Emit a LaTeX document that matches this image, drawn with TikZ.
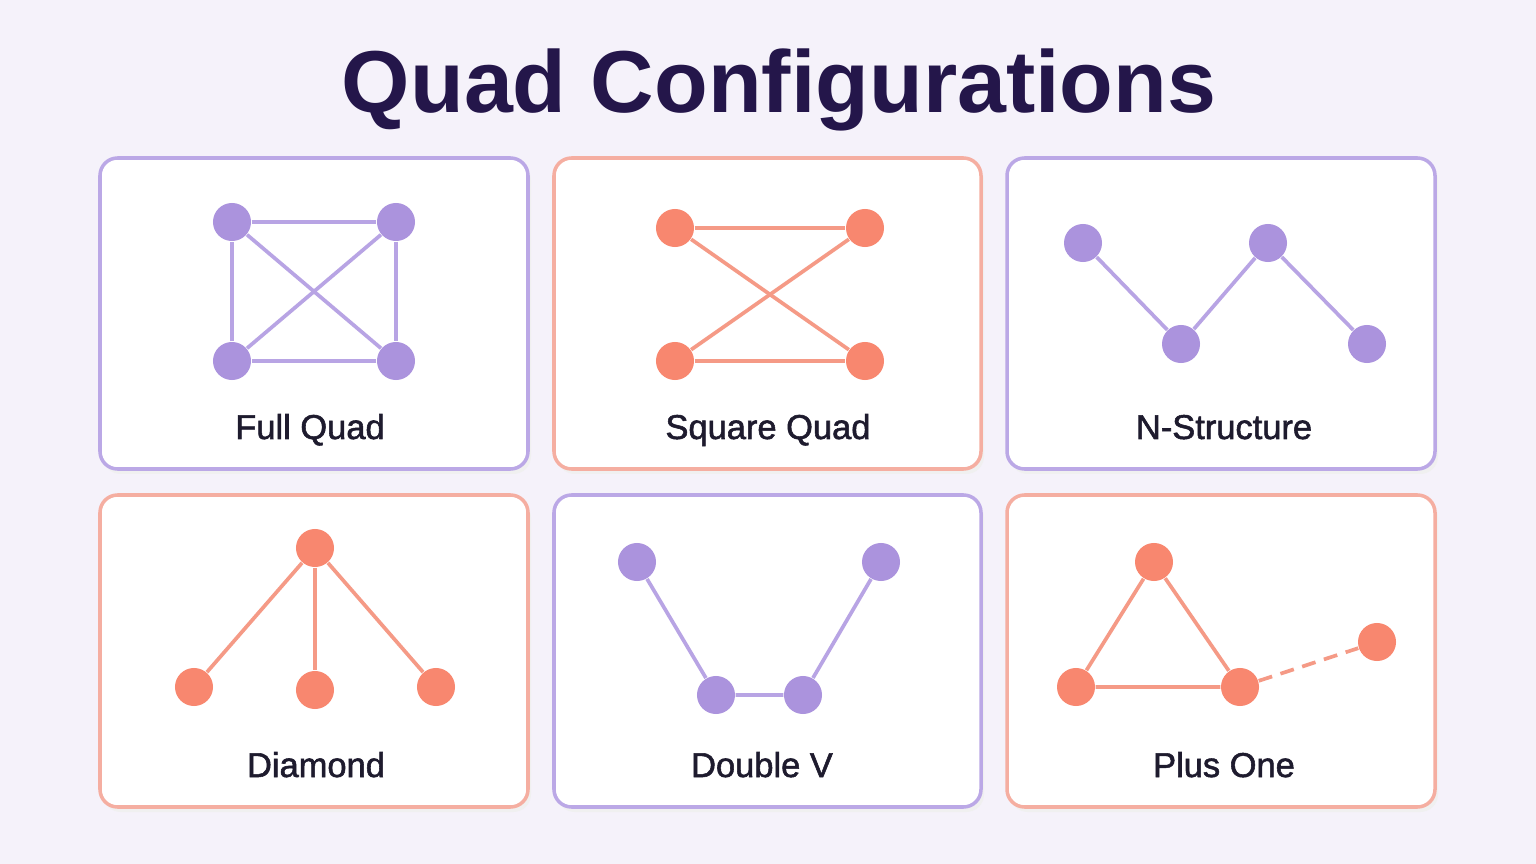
\documentclass[tikz,border=0pt]{standalone}
\usepackage{fontspec}
\setmainfont{Liberation Sans}
\newfontfamily\labelfont[FakeBold=1.6]{Liberation Sans}
\usepackage{tikz}
\usetikzlibrary{calc}

\definecolor{bgcol}{HTML}{F5F2FA}
\definecolor{titlecol}{HTML}{24164A}
\definecolor{labelcol}{HTML}{1E1B2E}
\definecolor{lavline}{HTML}{BBA8E6}
\definecolor{lavdot}{HTML}{AB93DD}
\definecolor{corline}{HTML}{F5AEA1}
\definecolor{cordot}{HTML}{F8876F}
\definecolor{coredge}{HTML}{F59A86}

\begin{document}
\begin{tikzpicture}[x=0.01cm, y=-0.01cm,
  panel/.style={line width=1pt, rounded corners=5pt, fill=white},
  lavpanel/.style={panel, draw=lavline},
  corpanel/.style={panel, draw=corline},
  lavdot/.style={circle, fill=lavdot, inner sep=0pt, minimum size=0.38cm},
  cordot/.style={circle, fill=cordot, inner sep=0pt, minimum size=0.38cm},
  lavedge/.style={draw=lavline!80!lavdot, line width=1.05pt},
  coredge/.style={draw=coredge, line width=1.05pt},
  caption/.style={anchor=base, font=\labelfont\fontsize{9.8}{11}\selectfont, text=labelcol}]

\fill[bgcol] (0,0) rectangle (1536,864);
\useasboundingbox (0,0) rectangle (1536,864);

\node[anchor=base, font=\bfseries\fontsize{25}{30}\selectfont, text=titlecol] (title) at (779,113) {Quad Configurations};

\fill[black!6,rounded corners=5pt] (103,163) rectangle (531,474);
\fill[black!6,rounded corners=5pt] (557,163) rectangle (984,474);
\fill[black!6,rounded corners=5pt] (1010,163) rectangle (1438,474);
\fill[black!6,rounded corners=5pt] (103,500) rectangle (531,812);
\fill[black!6,rounded corners=5pt] (557,500) rectangle (984,812);
\fill[black!6,rounded corners=5pt] (1010,500) rectangle (1438,812);

\draw[lavpanel] (100,158) rectangle (528,469);
\draw[corpanel] (554,158) rectangle (981,469);
\draw[lavpanel] (1007,158) rectangle (1435,469);
\draw[corpanel] (100,495) rectangle (528,807);
\draw[lavpanel] (554,495) rectangle (981,807);
\draw[corpanel] (1007,495) rectangle (1435,807);

\node[lavdot] (fq1) at (232,222) {};
\node[lavdot] (fq2) at (396,222) {};
\node[lavdot] (fq3) at (232,361) {};
\node[lavdot] (fq4) at (396,361) {};
\draw[lavedge] (fq1) -- (fq2) -- (fq4) -- (fq3) -- (fq1);
\draw[lavedge] (fq1) -- (fq4);
\draw[lavedge] (fq2) -- (fq3);
\node[caption] (fqlabel) at (310,439) {Full Quad};

\node[cordot] (sq1) at (675,228) {};
\node[cordot] (sq2) at (865,228) {};
\node[cordot] (sq3) at (675,361) {};
\node[cordot] (sq4) at (865,361) {};
\draw[coredge] (sq1) -- (sq2);
\draw[coredge] (sq3) -- (sq4);
\draw[coredge] (sq1) -- (sq4);
\draw[coredge] (sq2) -- (sq3);
\node[caption] (sqlabel) at (768,439) {Square Quad};

\node[lavdot] (ns1) at (1083,243) {};
\node[lavdot] (ns2) at (1181,344) {};
\node[lavdot] (ns3) at (1268,243) {};
\node[lavdot] (ns4) at (1367,344) {};
\draw[lavedge] (ns1) -- (ns2) -- (ns3) -- (ns4);
\node[caption] (nslabel) at (1224,439) {N-Structure};

\node[cordot] (dm1) at (315,548) {};
\node[cordot] (dm2) at (194,687) {};
\node[cordot] (dm3) at (315,690) {};
\node[cordot] (dm4) at (436,687) {};
\draw[coredge] (dm1) -- (dm2);
\draw[coredge] (dm1) -- (dm3);
\draw[coredge] (dm1) -- (dm4);
\node[caption] (dmlabel) at (316,777) {Diamond};

\node[lavdot] (dv1) at (637,562) {};
\node[lavdot] (dv2) at (716,695) {};
\node[lavdot] (dv3) at (803,695) {};
\node[lavdot] (dv4) at (881,562) {};
\draw[lavedge] (dv1) -- (dv2) -- (dv3) -- (dv4);
\node[caption] (dvlabel) at (762,777) {Double V};

\node[cordot] (po1) at (1154,562) {};
\node[cordot] (po2) at (1076,687) {};
\node[cordot] (po3) at (1240,687) {};
\node[cordot] (po4) at (1377,642) {};
\draw[coredge] (po1) -- (po2) -- (po3) -- (po1);
\draw[coredge, dashed, dash pattern=on 4pt off 2.5pt] (po3) -- (po4);
\node[caption] (polabel) at (1224,777) {Plus One};
\end{tikzpicture}
\end{document}
